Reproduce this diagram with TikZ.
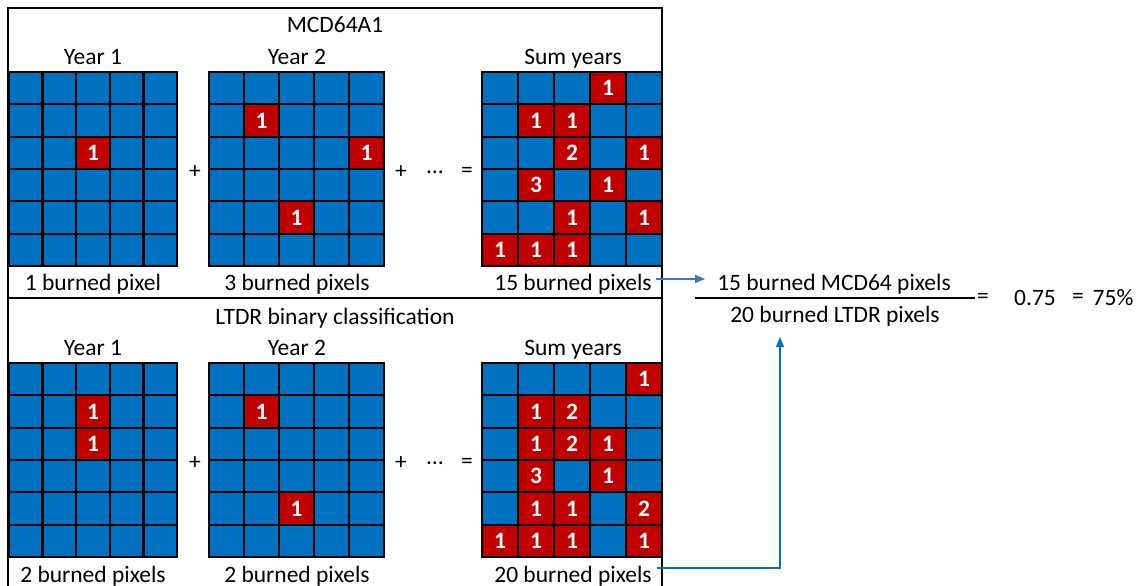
\documentclass[tikz,border=0pt]{standalone}
\usepackage{fontspec}
\setmainfont{Carlito}
\usetikzlibrary{arrows.meta}
\definecolor{pixblue}{HTML}{0070C0}
\definecolor{pixred}{HTML}{C00000}
\definecolor{arrlight}{HTML}{4472C4}
\definecolor{arrdark}{HTML}{0070C0}
\tikzset{
  lbl/.style={font=\fontsize{23.5}{28}\selectfont, inner sep=0pt, anchor=base},
  op/.style={font=\fontsize{23.5}{28}\selectfont, inner sep=0pt},
  num/.style={font=\fontsize{23.5}{28}\selectfont\bfseries, text=white, inner sep=0pt},
  boxframe/.style={draw=black, line width=2.6pt},
  gline/.style={draw=black, line width=2.3pt},
  arrA/.style={draw=arrlight, line width=1.3pt, -{Triangle[length=10pt,width=8pt]}},
  arrB/.style={draw=arrdark, line width=1.3pt, -{Triangle[length=10pt,width=8pt]}},
}
\newcommand\pixgrid[5]{%
  \begin{scope}[xshift=#2pt, yshift=-#3pt, x=#4pt, y=-32.33pt]
    \fill[pixblue] (0,0) rectangle (5,6);
    \foreach \c/\r/\v in {#5} {
      \fill[pixred] (\c,\r) rectangle ++(1,1);
      \node[num] (#1-\c-\r) at (\c+0.5,\r+0.5) {\v};
    }
    \foreach \i in {1,...,4} \draw[gline] (\i,0) -- (\i,6);
    \foreach \j in {1,...,5} \draw[gline] (0,\j) -- (5,\j);
    \draw[gline] (0,0) rectangle (5,6);
  \end{scope}}
\begin{document}
\begin{tikzpicture}[x=1pt, y=-1pt]
\useasboundingbox (0,0) rectangle (1143,586);
% ---------- top panel ----------
\pixgrid{ta}{9}{72}{33.6}{2/2/1}
\pixgrid{tb}{209}{72}{35}{1/1/1, 4/2/1, 2/4/1}
\pixgrid{tc}{482}{72}{36}{3/0/1, 1/1/1, 2/1/1, 2/2/2, 4/2/1, 1/3/3, 3/3/1, 2/4/1, 4/4/1, 0/5/1, 1/5/1, 2/5/1}
% ---------- bottom panel ----------
\pixgrid{ba}{9}{363}{33.6}{2/1/1, 2/2/1}
\pixgrid{bb}{209}{363}{35}{1/1/1, 2/4/1}
\pixgrid{bc}{482}{363}{36}{4/0/1, 1/1/1, 2/1/2, 1/2/1, 2/2/2, 3/2/1, 1/3/3, 3/3/1, 1/4/1, 2/4/1, 4/4/2, 0/5/1, 1/5/1, 2/5/1, 4/5/1}
% frames
\draw[boxframe] (8,8) rectangle (662,298);
\draw[boxframe] (8,586) -- (8,298) -- (662,298) -- (662,586);
% titles
\node[lbl] (t1) at (335,33) {MCD64A1};
\node[lbl] (t2) at (335,324) {LTDR binary classification};
\node[lbl] (ty1) at (93,65) {Year 1};
\node[lbl] (ty2) at (297,65) {Year 2};
\node[lbl] (tys) at (573,65) {Sum years};
\node[lbl] (by1) at (93,355) {Year 1};
\node[lbl] (by2) at (297,355) {Year 2};
\node[lbl] (bys) at (573,355) {Sum years};
% operators
\node[op] (tp1) at (195,172) {+};
\node[op] (tp2) at (401,172) {+};
\node[op] (td) at (435,172) {\dots};
\node[op] (te) at (467,172) {=};
\node[op] (bp1) at (195,463) {+};
\node[op] (bp2) at (401,463) {+};
\node[op] (bd) at (435,463) {\dots};
\node[op] (be) at (467,463) {=};
% counts
\node[lbl] (s1) at (93,290) {1 burned pixel};
\node[lbl] (s3) at (297,290) {3 burned pixels};
\node[lbl] (s15) at (573,290) {15 burned pixels};
\node[lbl] (r1) at (93,582) {2 burned pixels};
\node[lbl] (r2) at (297,582) {2 burned pixels};
\node[lbl] (s20) at (573,582) {20 burned pixels};
% formula
\node[lbl] (fnum) at (834,290) {15 burned MCD64 pixels};
\node[lbl] (fden) at (835,322) {20 burned LTDR pixels};
\coordinate (fl) at (695,298);
\coordinate (fr) at (975,298);
\draw[line width=2pt] (fl) -- (fr);
\node[op] (eq1) at (983,298) {=};
\node[lbl] (val) at (1035,305) {0.75};
\node[op] (eq2) at (1078,298) {=};
\node[lbl] (pct) at (1113,305) {75\%};
% connectors
\draw[arrA] ([xshift=4pt,yshift=11pt]s15.base east) -- ([xshift=-12pt,yshift=11pt]fnum.base west);
\draw[arrB] ([xshift=5pt,yshift=14pt]s20.base east) -| ([xshift=-55pt,yshift=-15pt]fden.base);
\end{tikzpicture}
\end{document}
